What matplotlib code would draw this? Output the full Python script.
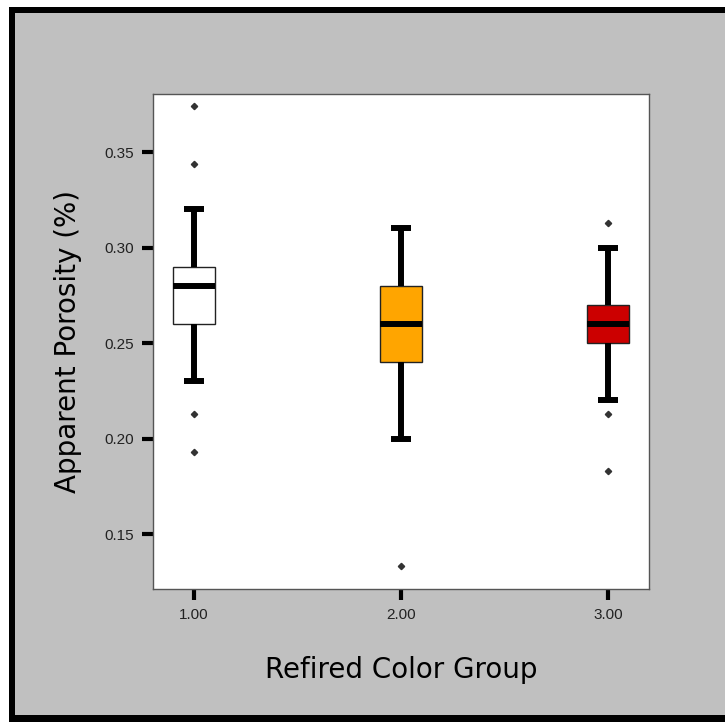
import matplotlib.pyplot as plt
from matplotlib.patches import Rectangle

# Box summary for each refired colour group
groups = [1.0, 2.0, 3.0]
group_labels = ['1.00', '2.00', '3.00']
whisker_low = [0.23, 0.20, 0.22]
q1 = [0.26, 0.24, 0.25]
medians = [0.28, 0.26, 0.26]
q3 = [0.29, 0.28, 0.27]
whisker_high = [0.32, 0.31, 0.30]
outliers = [
    [0.374, 0.344, 0.213, 0.193],
    [0.133],
    [0.313, 0.213, 0.183],
]
box_colors = ['#FFFFFF', '#FFA500', '#CC0000']
y_ticks = [0.15, 0.20, 0.25, 0.30, 0.35]

W, H = 725, 722
fig = plt.figure(figsize=(W / 100, H / 100), dpi=100, facecolor='white')

# Outer black frame with grey panel inside
fig.patches.append(Rectangle((9 / W, 0), 1, 1 - 7 / H, transform=fig.transFigure,
                             facecolor='black', edgecolor='none', zorder=-2))
fig.patches.append(Rectangle((15 / W, 7 / H), 1, 1 - 20 / H, transform=fig.transFigure,
                             facecolor='#C0C0C0', edgecolor='none', zorder=-1))

ax = fig.add_axes([153 / W, 1 - 589 / H, 496 / W, 495 / H])
ax.set_facecolor('white')

stats = []
for i in range(len(groups)):
    stats.append(dict(med=medians[i], q1=q1[i], q3=q3[i],
                      whislo=whisker_low[i], whishi=whisker_high[i],
                      fliers=outliers[i]))

bp = ax.bxp(stats, positions=groups, widths=0.205, patch_artist=True,
            boxprops=dict(edgecolor='#222222', linewidth=1),
            medianprops=dict(color='black', linewidth=4.3, solid_capstyle='butt'),
            whiskerprops=dict(color='black', linewidth=4.3, solid_capstyle='butt'),
            capprops=dict(color='black', linewidth=4.3, solid_capstyle='butt'),
            capwidths=0.1,
            flierprops=dict(marker='D', markersize=3.2, markerfacecolor='#333333',
                            markeredgecolor='#333333'))
for patch, c in zip(bp['boxes'], box_colors):
    patch.set_facecolor(c)

ax.set_xlim(0.802, 3.198)
ax.set_ylim(0.1212, 0.3804)
ax.set_xticks(groups)
ax.set_xticklabels(group_labels)
ax.set_yticks(y_ticks)
ax.set_yticklabels([f'{v:.2f}' for v in y_ticks])
ax.tick_params(axis='both', direction='out', length=8, width=3, color='black',
               labelsize=11, labelcolor='#222222', pad=6)
for lab in ax.get_xticklabels() + ax.get_yticklabels():
    lab.set_family('Liberation Sans')

for s in ax.spines.values():
    s.set_color('#555555')
    s.set_linewidth(1)

ax.set_ylabel('Apparent Porosity (%)', fontsize=20, labelpad=16)
ax.set_xlabel('Refired Color Group', fontsize=20, labelpad=24)

fig.savefig('out.png', dpi=100)
